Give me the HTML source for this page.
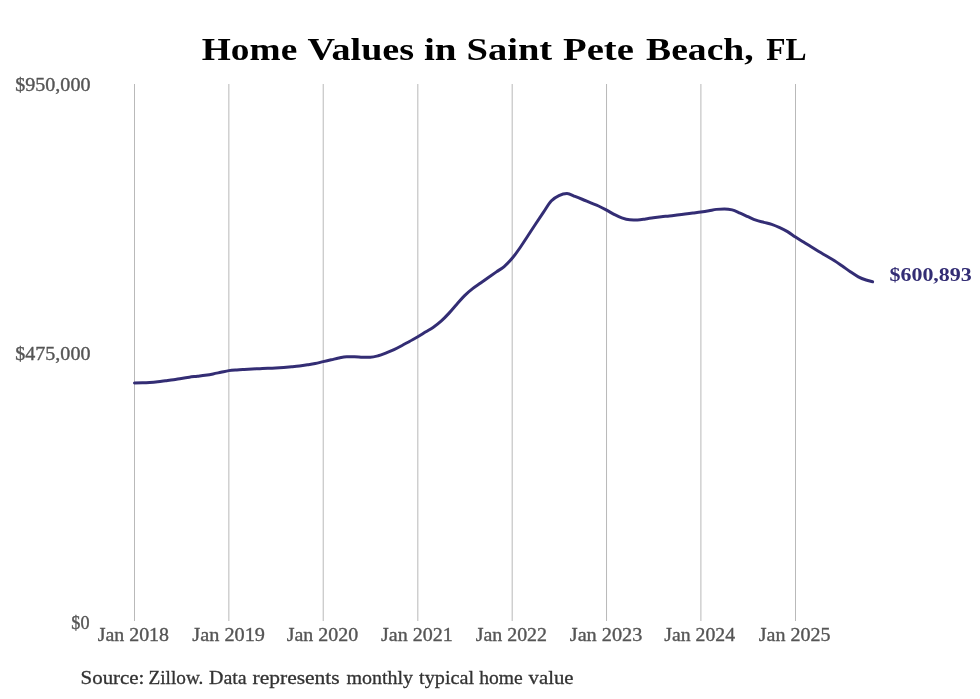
<!DOCTYPE html>
<html><head><meta charset="utf-8"><title>Home Values in Saint Pete Beach, FL</title><style>
html,body{margin:0;padding:0;background:#fff;}
svg{display:block;will-change:transform;}
text{font-family:"Liberation Serif",serif;}
</style></head><body>
<svg width="980" height="699" viewBox="0 0 980 699">
<rect width="980" height="699" fill="#fff"/>
<g fill="#b9b9b9">
<rect x="134.00" y="84" width="1" height="537"/>
<rect x="228.35" y="84" width="1" height="537"/>
<rect x="322.71" y="84" width="1" height="537"/>
<rect x="417.32" y="84" width="1" height="537"/>
<rect x="511.68" y="84" width="1" height="537"/>
<rect x="606.03" y="84" width="1" height="537"/>
<rect x="700.39" y="84" width="1" height="537"/>
<rect x="795.00" y="84" width="1" height="537"/>
</g>
<path d="M134.50,382.89C137.17,382.88 139.84,382.86 142.51,382.80C144.92,382.75 147.34,382.65 149.75,382.50C152.42,382.33 155.10,382.09 157.77,381.80C160.35,381.52 162.94,381.14 165.52,380.80C168.19,380.44 170.86,380.11 173.53,379.70C176.12,379.31 178.70,378.81 181.29,378.40C183.96,377.98 186.63,377.57 189.30,377.20C191.97,376.83 194.65,376.54 197.32,376.20C199.90,375.87 202.49,375.58 205.07,375.20C207.74,374.81 210.42,374.39 213.09,373.90C215.67,373.42 218.26,372.83 220.84,372.30C223.51,371.75 226.18,371.04 228.85,370.64C231.52,370.24 234.20,370.10 236.87,369.90C239.28,369.72 241.70,369.59 244.11,369.45C246.78,369.30 249.45,369.16 252.12,369.03C254.71,368.91 257.29,368.80 259.88,368.69C262.55,368.58 265.22,368.48 267.89,368.36C270.47,368.24 273.06,368.12 275.64,367.97C278.31,367.81 280.99,367.62 283.66,367.41C286.33,367.20 289.00,366.97 291.67,366.72C294.26,366.48 296.84,366.25 299.43,365.94C302.10,365.62 304.77,365.21 307.44,364.80C310.03,364.40 312.61,364.02 315.20,363.50C317.87,362.96 320.54,362.22 323.21,361.60C325.88,360.98 328.55,360.42 331.22,359.80C333.72,359.22 336.22,358.49 338.72,358.00C341.39,357.48 344.06,356.87 346.73,356.80C349.32,356.73 351.90,356.70 354.49,356.70C357.16,356.70 359.83,357.13 362.50,357.20C365.09,357.27 367.67,357.30 370.26,357.30C372.93,357.30 375.60,356.53 378.27,355.80C380.94,355.07 383.61,353.95 386.28,352.90C388.87,351.88 391.45,350.81 394.04,349.60C396.71,348.35 399.38,346.92 402.05,345.50C404.64,344.12 407.22,342.63 409.81,341.20C412.48,339.73 415.15,338.36 417.82,336.80C420.49,335.24 423.17,333.46 425.84,331.82C428.25,330.34 430.66,329.10 433.07,327.44C435.74,325.60 438.42,323.59 441.09,321.19C443.67,318.87 446.26,316.15 448.84,313.37C451.51,310.49 454.19,307.17 456.86,304.16C459.44,301.25 462.03,298.16 464.61,295.61C467.28,292.97 469.96,290.76 472.63,288.66C475.30,286.56 477.97,284.93 480.64,283.03C483.22,281.20 485.81,279.30 488.39,277.47C491.06,275.58 493.74,273.71 496.41,271.86C498.99,270.07 501.58,268.74 504.16,266.53C506.83,264.25 509.51,261.47 512.18,258.30C514.85,255.13 517.52,251.34 520.19,247.50C522.60,244.03 525.02,240.17 527.43,236.50C530.10,232.44 532.77,228.33 535.44,224.30C538.03,220.40 540.61,216.52 543.20,212.70C545.87,208.75 548.54,203.86 551.21,201.00C553.80,198.23 556.38,196.83 558.97,195.60C561.64,194.33 564.31,193.60 566.98,193.60C569.65,193.60 572.32,195.40 574.99,196.40C577.58,197.37 580.16,198.43 582.75,199.50C585.42,200.60 588.09,201.80 590.76,202.90C593.35,203.97 595.93,204.82 598.52,206.00C601.19,207.21 603.86,208.67 606.53,210.10C609.20,211.53 611.88,213.25 614.55,214.60C616.96,215.82 619.37,217.05 621.78,217.90C624.45,218.84 627.13,219.66 629.80,219.80C632.38,219.93 634.97,220.00 637.55,220.00C640.22,220.00 642.90,219.39 645.57,219.00C648.15,218.62 650.74,218.08 653.32,217.70C655.99,217.31 658.67,216.98 661.34,216.70C664.01,216.42 666.68,216.27 669.35,216.00C671.93,215.74 674.52,215.41 677.10,215.10C679.77,214.78 682.45,214.44 685.12,214.10C687.70,213.77 690.29,213.44 692.87,213.10C695.54,212.75 698.22,212.44 700.89,212.05C703.56,211.66 706.23,211.23 708.90,210.77C711.40,210.34 713.90,209.60 716.40,209.37C719.07,209.12 721.74,209.00 724.41,209.00C727.00,209.00 729.58,209.30 732.17,209.90C734.84,210.52 737.51,212.05 740.18,213.20C742.76,214.31 745.35,215.50 747.93,216.65C750.60,217.84 753.28,219.25 755.95,220.20C758.62,221.15 761.29,221.64 763.96,222.33C766.55,223.00 769.13,223.44 771.72,224.30C774.39,225.19 777.06,226.36 779.73,227.60C782.32,228.81 784.90,230.07 787.49,231.62C790.16,233.22 792.83,235.34 795.50,237.07C798.17,238.80 800.84,240.31 803.51,241.98C805.92,243.49 808.34,245.09 810.75,246.60C813.42,248.28 816.10,249.95 818.77,251.54C821.35,253.07 823.94,254.48 826.52,255.97C829.19,257.51 831.86,258.96 834.53,260.66C837.12,262.31 839.70,264.19 842.29,266.00C844.96,267.87 847.63,269.90 850.30,271.70C852.97,273.50 855.65,275.40 858.32,276.80C860.90,278.15 863.49,279.13 866.07,280.00C868.25,280.74 870.42,281.27 872.60,281.80" fill="none" stroke="#332d74" stroke-width="3" stroke-linecap="round" stroke-linejoin="round"/>
<text x="201.80" y="60.4" font-size="32" font-weight="bold" fill="#000" textLength="95.41" lengthAdjust="spacingAndGlyphs">Home</text>
<text x="307.44" y="60.4" font-size="32" font-weight="bold" fill="#000" textLength="106.68" lengthAdjust="spacingAndGlyphs">Values</text>
<text x="424.02" y="60.4" font-size="32" font-weight="bold" fill="#000" textLength="32.60" lengthAdjust="spacingAndGlyphs">in</text>
<text x="466.46" y="60.4" font-size="32" font-weight="bold" fill="#000" textLength="85.75" lengthAdjust="spacingAndGlyphs">Saint</text>
<text x="563.01" y="60.4" font-size="32" font-weight="bold" fill="#000" textLength="70.86" lengthAdjust="spacingAndGlyphs">Pete</text>
<text x="646.05" y="60.4" font-size="32" font-weight="bold" fill="#000" textLength="107.59" lengthAdjust="spacingAndGlyphs">Beach,</text>
<text x="766.29" y="60.4" font-size="32" font-weight="bold" fill="#000" textLength="40.39" lengthAdjust="spacingAndGlyphs">FL</text>
<text x="80.64" y="684.2" font-size="19.5" fill="#333333" stroke="#333333" stroke-width="0.3" textLength="63.80" lengthAdjust="spacingAndGlyphs">Source:</text>
<text x="148.50" y="684.2" font-size="19.5" fill="#333333" stroke="#333333" stroke-width="0.3" textLength="54.91" lengthAdjust="spacingAndGlyphs">Zillow.</text>
<text x="209.08" y="684.2" font-size="19.5" fill="#333333" stroke="#333333" stroke-width="0.3" textLength="37.60" lengthAdjust="spacingAndGlyphs">Data</text>
<text x="252.60" y="684.2" font-size="19.5" fill="#333333" stroke="#333333" stroke-width="0.3" textLength="87.09" lengthAdjust="spacingAndGlyphs">represents</text>
<text x="346.43" y="684.2" font-size="19.5" fill="#333333" stroke="#333333" stroke-width="0.3" textLength="66.68" lengthAdjust="spacingAndGlyphs">monthly</text>
<text x="419.10" y="684.2" font-size="19.5" fill="#333333" stroke="#333333" stroke-width="0.3" textLength="54.92" lengthAdjust="spacingAndGlyphs">typical</text>
<text x="479.21" y="684.2" font-size="19.5" fill="#333333" stroke="#333333" stroke-width="0.3" textLength="43.50" lengthAdjust="spacingAndGlyphs">home</text>
<text x="528.63" y="684.2" font-size="19.5" fill="#333333" stroke="#333333" stroke-width="0.3" textLength="44.93" lengthAdjust="spacingAndGlyphs">value</text>
<text x="15.30" y="90.6" font-size="18" fill="#555555" stroke="#555555" stroke-width="0.35" textLength="75.11" lengthAdjust="spacingAndGlyphs">$950,000</text>
<text x="15.30" y="359.7" font-size="18" fill="#555555" stroke="#555555" stroke-width="0.35" textLength="75.11" lengthAdjust="spacingAndGlyphs">$475,000</text>
<text x="71.38" y="628.8" font-size="18" fill="#555555" stroke="#555555" stroke-width="0.35" textLength="18.16" lengthAdjust="spacingAndGlyphs">$0</text>
<text x="97.74" y="640.6" font-size="19" fill="#555555" stroke="#555555" stroke-width="0.35" textLength="71.26" lengthAdjust="spacingAndGlyphs">Jan 2018</text>
<text x="192.34" y="640.6" font-size="19" fill="#555555" stroke="#555555" stroke-width="0.35" textLength="72.63" lengthAdjust="spacingAndGlyphs">Jan 2019</text>
<text x="286.74" y="640.6" font-size="19" fill="#555555" stroke="#555555" stroke-width="0.35" textLength="71.40" lengthAdjust="spacingAndGlyphs">Jan 2020</text>
<text x="381.10" y="640.6" font-size="19" fill="#555555" stroke="#555555" stroke-width="0.35" textLength="71.61" lengthAdjust="spacingAndGlyphs">Jan 2021</text>
<text x="475.71" y="640.6" font-size="19" fill="#555555" stroke="#555555" stroke-width="0.35" textLength="71.33" lengthAdjust="spacingAndGlyphs">Jan 2022</text>
<text x="569.75" y="640.6" font-size="19" fill="#555555" stroke="#555555" stroke-width="0.35" textLength="72.57" lengthAdjust="spacingAndGlyphs">Jan 2023</text>
<text x="664.31" y="640.6" font-size="19" fill="#555555" stroke="#555555" stroke-width="0.35" textLength="70.77" lengthAdjust="spacingAndGlyphs">Jan 2024</text>
<text x="758.69" y="640.6" font-size="19" fill="#555555" stroke="#555555" stroke-width="0.35" textLength="71.80" lengthAdjust="spacingAndGlyphs">Jan 2025</text>
<text x="889.48" y="280.9" font-size="18.5" font-weight="bold" fill="#332d74" textLength="82.30" lengthAdjust="spacingAndGlyphs">$600,893</text>
</svg>
</body></html>
